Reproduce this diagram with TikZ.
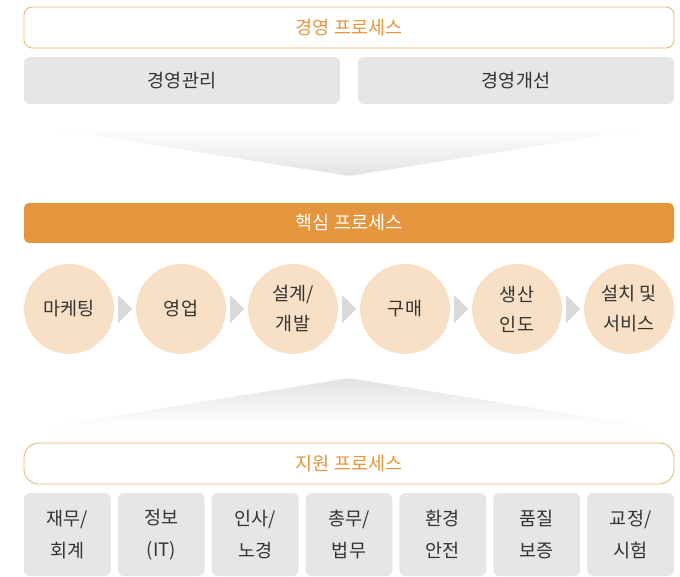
\documentclass[tikz,border=0pt]{standalone}
\usepackage{fontspec}
\setmainfont{Noto Sans CJK KR}
\usetikzlibrary{calc}

\definecolor{procorange}{HTML}{E5953D}
\definecolor{hdrline}{HTML}{EDB677}
\definecolor{boxgray}{HTML}{E6E6E6}
\definecolor{circfill}{HTML}{F8E0C6}
\definecolor{chevgray}{HTML}{D9D9D9}
\definecolor{txtdark}{HTML}{333333}

\begin{document}
\begin{tikzpicture}[
  x=1pt, y=-1pt,
  hdr/.style={draw=hdrline, line width=0.9pt, fill=white, rounded corners=#1,
    minimum width=650pt, minimum height=41pt, inner sep=0pt,
    text=procorange, font=\fontsize{18.5}{20}\selectfont},
  core/.style={fill=procorange, rounded corners=5pt,
    minimum width=650pt, minimum height=40pt, inner sep=0pt,
    text=white, font=\fontsize{18.5}{20}\selectfont},
  gbox/.style={fill=boxgray, rounded corners=6pt, inner sep=0pt,
    text=txtdark, align=center, font=\fontsize{18.5}{32}\selectfont},
  step circ/.style={circle, fill=circfill, minimum size=90pt, inner sep=0pt,
    text=txtdark, align=center, font=\fontsize{18.5}{30}\selectfont},
  chev/.style={fill=chevgray},
]

\useasboundingbox (0,0) rectangle (680,577);

% ===== TOP: management process ===============================================
\node[hdr=8pt] (mgmt) at (349,27.5) {경영 프로세스};
\node[gbox, minimum width=316pt, minimum height=47pt] (mgmtA) at (182,80.5) {경영관리};
\node[gbox, minimum width=316pt, minimum height=47pt] (mgmtB) at (516,80.5) {경영개선};

% Funnel pointing down
\shade[top color=white, bottom color=gray!22, rounded corners=3pt]
  (40,127) -- (658,127) -- (349,176) -- cycle;

% ===== MIDDLE: core process ==================================================
\node[core] (core) at (349,223) {핵심 프로세스};

\foreach \t [count=\i] in {마케팅, 영업, 설계/\\개발, 구매, 생산\\인도, 설치 및\\서비스}
  \node[step circ] (c\i) at ({69+112*(\i-1)},309) {\t};

% Chevrons between the steps
\foreach \i in {1,...,5}
  \fill[chev] ($(c\i.east)+(4,-14)$) -- ($(c\i.east)+(4,14)$)
    -- ($(c\i.east)+(18,0)$) -- cycle;

% ===== BOTTOM: support process ===============================================
% Funnel pointing up
\shade[top color=gray!22, bottom color=white, rounded corners=3pt]
  (349,378) -- (658,428) -- (40,428) -- cycle;

\node[hdr=15pt] (supp) at (349,463.5) {지원 프로세스};

\foreach \t [count=\i] in {재무/\\회계, 정보\\(IT), 인사/\\노경, 총무/\\법무,
                           환경\\안전, 품질\\보증, 교정/\\시험}
  \node[gbox, minimum width=86.8pt, minimum height=83pt] (s\i)
    at ({67.4+93.87*(\i-1)},534.5) {\t};

\end{tikzpicture}
\end{document}
